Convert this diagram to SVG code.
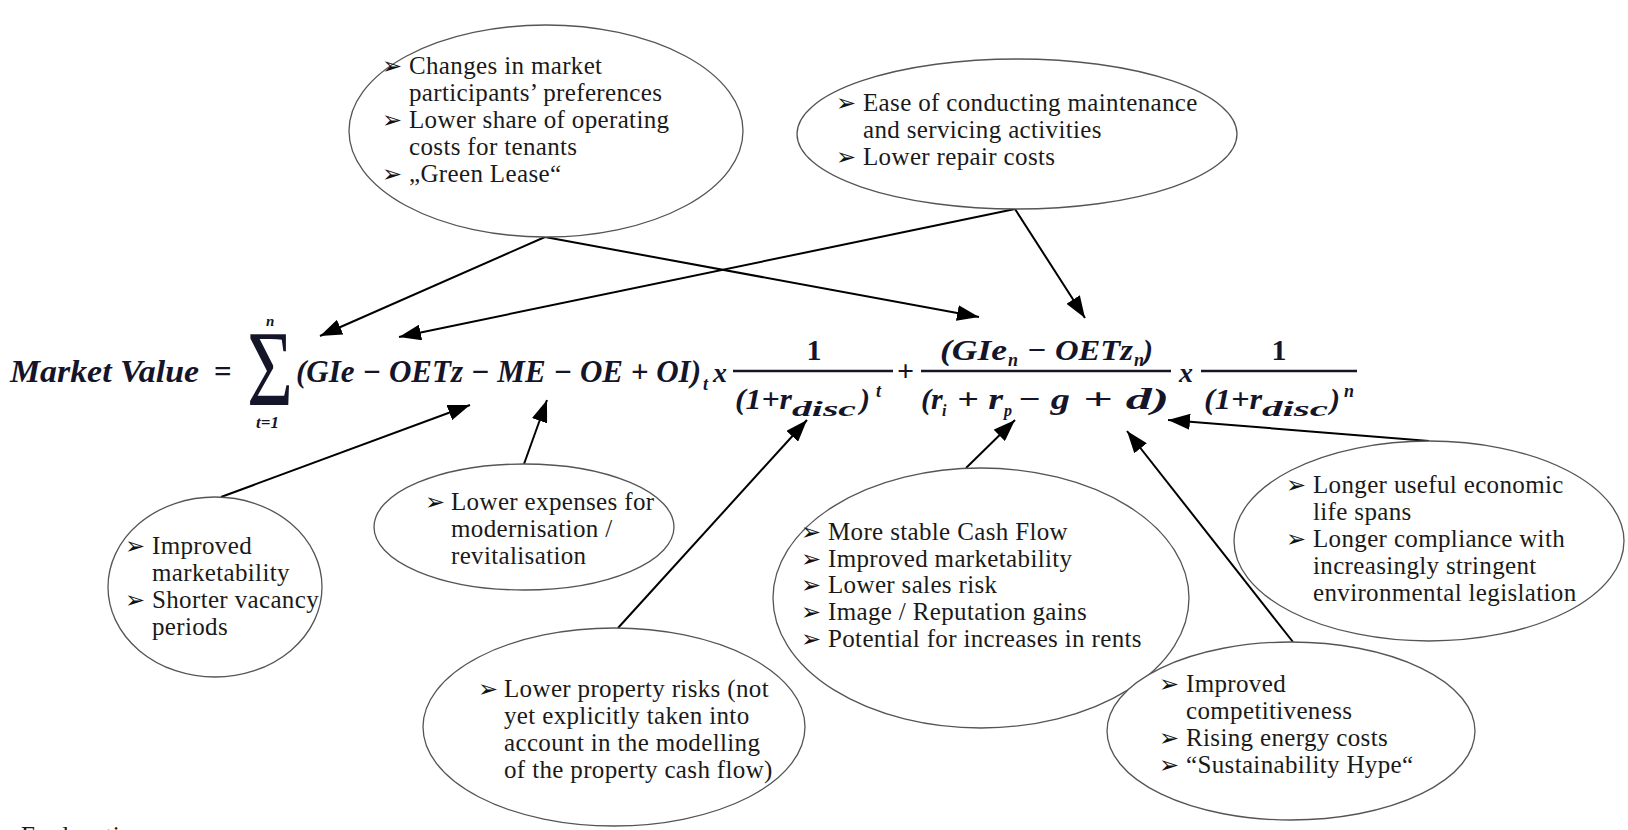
<svg xmlns="http://www.w3.org/2000/svg" width="1628" height="830" viewBox="0 0 1628 830">
<defs>
<style>
.ell{fill:#fff;stroke:#555;stroke-width:1.3}
.t{font-family:"Liberation Serif",serif;font-size:25px;fill:#1a1a1a;letter-spacing:0.35px}
.b{font-family:"DejaVu Sans",sans-serif;font-size:24px;fill:#111}
.f{font-family:"Liberation Serif",serif;font-style:italic;font-weight:bold;fill:#15152a}
.fu{font-family:"Liberation Serif",serif;font-weight:bold;fill:#15152a}
.con{stroke:#000;stroke-width:2;fill:none;marker-end:url(#ah)}
.bar{stroke:#15152a;stroke-width:2.6}
</style>
<marker id="ah" markerUnits="userSpaceOnUse" markerWidth="22" markerHeight="16" refX="22" refY="8" orient="auto">
<path d="M0,0 L22,8 L0,16 z" fill="#000"/>
</marker>
</defs>
<rect width="1628" height="830" fill="#fff"/>

<g id="connectors">
<line class="con" x1="545" y1="237" x2="320" y2="336"/>
<line class="con" x1="545" y1="237" x2="979" y2="317"/>
<line class="con" x1="1015" y1="209" x2="399" y2="337"/>
<line class="con" x1="1015" y1="209" x2="1085" y2="318"/>
<line class="con" x1="221" y1="497" x2="470" y2="405"/>
<line class="con" x1="524" y1="464" x2="547" y2="400"/>
<line class="con" x1="618" y1="628" x2="807" y2="420"/>
<line class="con" x1="966" y1="468" x2="1015" y2="420"/>
<line class="con" x1="1293" y1="642" x2="1127" y2="431"/>
<line class="con" x1="1429" y1="441" x2="1168" y2="420"/>
</g>

<g id="formula">
<text class="f" x="10" y="382" font-size="31" textLength="189" lengthAdjust="spacingAndGlyphs">Market Value</text>
<text class="fu" x="214" y="382" font-size="31">=</text>
<text x="247" y="405" font-family="Liberation Serif,serif" font-size="108" fill="#15152a" textLength="46" lengthAdjust="spacingAndGlyphs">Σ</text>
<text class="f" x="266" y="326" font-size="15">n</text>
<text class="f" x="256" y="428" font-size="17">t=1</text>
<text class="f" x="296" y="382" font-size="31" textLength="405" lengthAdjust="spacingAndGlyphs">(GIe − OETz − ME − OE + OI)</text>
<text class="f" x="703" y="390" font-size="18">t</text>
<text class="f" x="713" y="382" font-size="28">x</text>
<line class="bar" x1="733" y1="371" x2="893" y2="371"/>
<text class="fu" x="814" y="360" font-size="30" text-anchor="middle">1</text>
<text class="f" x="735" y="409" font-size="30" textLength="57" lengthAdjust="spacingAndGlyphs">(1+r</text>
<text class="f" x="792" y="416" font-size="21" textLength="64" lengthAdjust="spacingAndGlyphs">disc</text>
<text class="f" x="860" y="409" font-size="30">)</text>
<text class="f" x="876" y="397" font-size="18">t</text>
<text class="fu" x="897" y="381" font-size="30">+</text>
<line class="bar" x1="921" y1="371" x2="1171" y2="371"/>
<text class="f" x="940" y="360" font-size="30" textLength="67" lengthAdjust="spacingAndGlyphs">(GIe</text>
<text class="f" x="1008" y="366" font-size="18">n</text>
<text class="f" x="1027" y="360" font-size="30" textLength="106" lengthAdjust="spacingAndGlyphs">− OETz</text>
<text class="f" x="1134" y="366" font-size="18">n</text>
<text class="f" x="1143" y="360" font-size="30">)</text>
<text class="f" x="921" y="409" font-size="30">(r</text>
<text class="f" x="942" y="416" font-size="16">i</text>
<text class="f" x="957" y="409" font-size="30" textLength="46" lengthAdjust="spacingAndGlyphs">+ r</text>
<text class="f" x="1004" y="416" font-size="16">p</text>
<text class="f" x="1018" y="409" font-size="30" textLength="52" lengthAdjust="spacingAndGlyphs">− g</text>
<text class="f" x="1083" y="409" font-size="30" textLength="86" lengthAdjust="spacingAndGlyphs">+ d)</text>
<text class="f" x="1179" y="382" font-size="28">x</text>
<line class="bar" x1="1201" y1="371" x2="1357" y2="371"/>
<text class="fu" x="1279" y="360" font-size="30" text-anchor="middle">1</text>
<text class="f" x="1204" y="409" font-size="30" textLength="58" lengthAdjust="spacingAndGlyphs">(1+r</text>
<text class="f" x="1262" y="416" font-size="21" textLength="66" lengthAdjust="spacingAndGlyphs">disc</text>
<text class="f" x="1330" y="409" font-size="30">)</text>
<text class="f" x="1344" y="397" font-size="18">n</text>
</g>

<g id="node-preferences">
<ellipse class="ell" cx="546" cy="131" rx="197" ry="106"/>
<text class="b" x="382" y="74">➢</text><text class="t" x="409" y="74">Changes in market</text>
<text class="t" x="409" y="101">participants’ preferences</text>
<text class="b" x="382" y="128">➢</text><text class="t" x="409" y="128">Lower share of operating</text>
<text class="t" x="409" y="155">costs for tenants</text>
<text class="b" x="382" y="182">➢</text><text class="t" x="409" y="182">„Green Lease“</text>
</g>

<g id="node-maintenance">
<ellipse class="ell" cx="1017" cy="134" rx="220" ry="75"/>
<text class="b" x="836" y="111">➢</text><text class="t" x="863" y="111">Ease of conducting maintenance</text>
<text class="t" x="863" y="138">and servicing activities</text>
<text class="b" x="836" y="165">➢</text><text class="t" x="863" y="165">Lower repair costs</text>
</g>

<g id="node-marketability">
<ellipse class="ell" cx="215" cy="587" rx="107" ry="90"/>
<text class="b" x="125" y="554">➢</text><text class="t" x="152" y="554">Improved</text>
<text class="t" x="152" y="581">marketability</text>
<text class="b" x="125" y="608">➢</text><text class="t" x="152" y="608">Shorter vacancy</text>
<text class="t" x="152" y="635">periods</text>
</g>

<g id="node-expenses">
<ellipse class="ell" cx="524" cy="527" rx="150" ry="63"/>
<text class="b" x="425" y="510">➢</text><text class="t" x="451" y="510">Lower expenses for</text>
<text class="t" x="451" y="537">modernisation /</text>
<text class="t" x="451" y="564">revitalisation</text>
</g>

<g id="node-cashflow">
<ellipse class="ell" cx="981" cy="598" rx="208" ry="130"/>
<text class="b" x="801" y="540">➢</text><text class="t" x="828" y="540">More stable Cash Flow</text>
<text class="b" x="801" y="567">➢</text><text class="t" x="828" y="567">Improved marketability</text>
<text class="b" x="801" y="593">➢</text><text class="t" x="828" y="593">Lower sales risk</text>
<text class="b" x="801" y="620">➢</text><text class="t" x="828" y="620">Image / Reputation gains</text>
<text class="b" x="801" y="647">➢</text><text class="t" x="828" y="647">Potential for increases in rents</text>
</g>

<g id="node-lifespan">
<ellipse class="ell" cx="1429" cy="541" rx="195" ry="100"/>
<text class="b" x="1286" y="493">➢</text><text class="t" x="1313" y="493">Longer useful economic</text>
<text class="t" x="1313" y="520">life spans</text>
<text class="b" x="1286" y="547">➢</text><text class="t" x="1313" y="547">Longer compliance with</text>
<text class="t" x="1313" y="574">increasingly stringent</text>
<text class="t" x="1313" y="601">environmental legislation</text>
</g>

<g id="node-risks">
<ellipse class="ell" cx="614" cy="727" rx="191" ry="99"/>
<text class="b" x="478" y="697">➢</text><text class="t" x="504" y="697">Lower property risks (not</text>
<text class="t" x="504" y="724">yet explicitly taken into</text>
<text class="t" x="504" y="751">account in the modelling</text>
<text class="t" x="504" y="778">of the property cash flow)</text>
</g>

<g id="node-competitiveness">
<ellipse class="ell" cx="1291" cy="731" rx="184" ry="89"/>
<text class="b" x="1159" y="692">➢</text><text class="t" x="1186" y="692">Improved</text>
<text class="t" x="1186" y="719">competitiveness</text>
<text class="b" x="1159" y="746">➢</text><text class="t" x="1186" y="746">Rising energy costs</text>
<text class="b" x="1159" y="773">➢</text><text class="t" x="1186" y="773"> “Sustainability Hype“</text>
</g>

<text class="t" x="21" y="844" font-size="24">Explanations:</text>
</svg>
